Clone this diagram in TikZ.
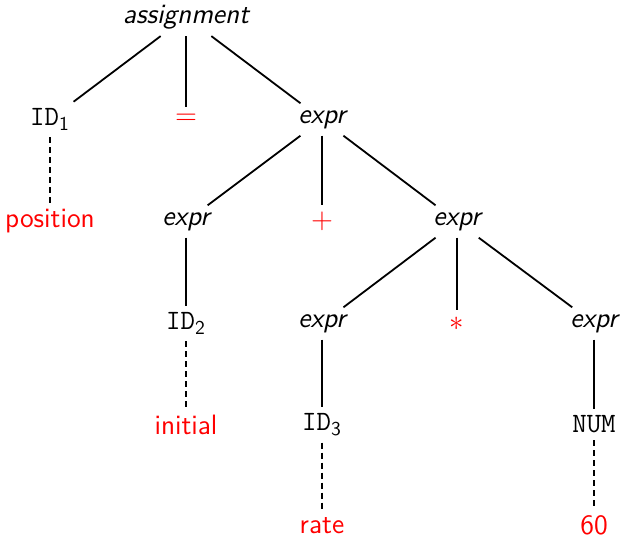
\documentclass[tikz,border=0pt]{standalone}
\usepackage{fontspec}
\newcommand\treefont{\fontsize{14}{17}\selectfont\sffamily}
\newcommand\tokid[1]{\texttt{ID}\textsubscript{#1}}
\tikzset{
  nonterm/.style={font=\treefont\itshape},
  tok/.style={font=\treefont},
  lexeme/.style={font=\treefont, text=red},
  branch/.style={line width=0.9pt},
  leaf/.style={line width=0.9pt, dash pattern=on 3pt off 2pt},
}
\begin{document}
\begin{tikzpicture}[x=0.5pt, y=-0.5pt]
\useasboundingbox (0,0) rectangle (621,537);

% parse tree nodes
\node[nonterm] (asg)  at (186,17)    {assignment};

\node[tok]     (id1)  at (50,119.5)  {\tokid{1}};
\node[lexeme]  (eq)   at (186,119.5) {$=$};
\node[nonterm] (e1)   at (322,119.5) {expr};

\node[lexeme]  (pos)  at (50,221.5)  {position};
\node[nonterm] (e2)   at (186,221.5) {expr};
\node[lexeme]  (plus) at (322,221.5) {$+$};
\node[nonterm] (e3)   at (457,221.5) {expr};

\node[tok]     (id2)  at (186,323.5) {\tokid{2}};
\node[nonterm] (e4)   at (322,323.5) {expr};
\node[lexeme]  (star) at (457,323.5) {$*$};
\node[nonterm] (e5)   at (594,323.5) {expr};

\node[lexeme]  (init) at (186,424.5) {initial};
\node[tok]     (id3)  at (322,424.5) {\tokid{3}};
\node[tok]     (num)  at (594,424.5) {\texttt{NUM}};

\node[lexeme]  (rate) at (322,525.5) {rate};
\node[lexeme]  (sixty) at (594,525.5) {60};

% tree edges
\draw[branch] (asg) -- (id1);
\draw[branch] (asg) -- (eq);
\draw[branch] (asg) -- (e1);
\draw[branch] (e1) -- (e2);
\draw[branch] (e1) -- (plus);
\draw[branch] (e1) -- (e3);
\draw[branch] (e2) -- (id2);
\draw[branch] (e3) -- (e4);
\draw[branch] (e3) -- (star);
\draw[branch] (e3) -- (e5);
\draw[branch] (e4) -- (id3);
\draw[branch] (e5) -- (num);

% token to lexeme links
\draw[leaf] (id1) -- (pos);
\draw[leaf] (id2) -- (init);
\draw[leaf] (id3) -- (rate);
\draw[leaf] (num) -- (sixty);
\end{tikzpicture}
\end{document}
